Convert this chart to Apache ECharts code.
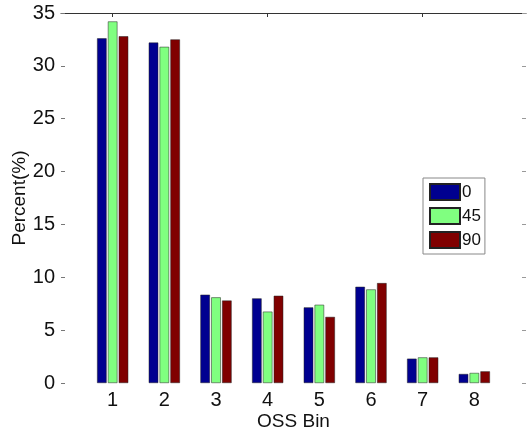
<!DOCTYPE html>
<html>
<head>
<meta charset="utf-8">
<script src="https://cdn.jsdelivr.net/npm/echarts@6/dist/echarts.min.js"></script>
<style>
  html, body { margin: 0; padding: 0; background: #fff; }
  #chart { width: 528px; height: 429px; }
</style>
</head>
<body>
<div id="chart"></div>
<script>
const categories = ['1', '2', '3', '4', '5', '6', '7', '8'];
const seriesNames = ['0', '45', '90'];
const values0  = [32.6, 32.2, 8.35, 8.0, 7.15, 9.1, 2.3, 0.85];
const values45 = [34.2, 31.8, 8.1, 6.75, 7.4, 8.85, 2.42, 0.95];
const values90 = [32.8, 32.5, 7.8, 8.25, 6.25, 9.45, 2.42, 1.1];
const yTicks = [0, 5, 10, 15, 20, 25, 30, 35];
const topTickCategories = ['1', '4', '7'];

const colors = ['#000090', '#80FF80', '#800000'];
const axisData = [''].concat(categories, ['']);
const pad = arr => [null].concat(arr, [null]);
const allValues = [values0, values45, values90];
const font = 'Liberation Sans, Arial, sans-serif';

const chart = echarts.init(document.getElementById('chart'), null, { renderer: 'canvas' });
chart.setOption({
  animation: false,
  backgroundColor: '#ffffff',
  textStyle: { fontFamily: font },
  grid: { left: 61, right: 2, top: 13, bottom: 46, containLabel: false, outerBoundsMode: 'none' },
  legend: {
    orient: 'vertical',
    left: 423,
    top: 178,
    data: seriesNames.map(n => ({ name: n, icon: 'rect' })),
    itemWidth: 30,
    itemHeight: 16,
    itemGap: 6,
    padding: [5, 4, 5, 6],
    borderColor: '#888',
    borderWidth: 1,
    backgroundColor: '#fff',
    textStyle: { fontSize: 17, color: '#111', fontFamily: font, padding: [0, 0, 0, -3] }
  },
  xAxis: [
    {
      type: 'category',
      data: axisData,
      boundaryGap: false,
      position: 'bottom',
      name: 'OSS Bin',
      nameLocation: 'middle',
      nameGap: 29,
      nameMoveOverlap: false,
      nameTextStyle: { fontSize: 19, color: '#111', fontFamily: font },
      axisLine: { show: false },
      axisTick: { show: false },
      axisLabel: { interval: 0, fontSize: 20, color: '#111', margin: 7, fontFamily: font },
      splitLine: { show: false }
    },
    {
      type: 'category',
      data: axisData,
      boundaryGap: false,
      position: 'top',
      axisLine: { show: true, onZero: false, lineStyle: { color: '#333', width: 1 } },
      axisTick: {
        show: true,
        inside: true,
        length: 4,
        interval: (i, v) => topTickCategories.indexOf(v) >= 0,
        lineStyle: { color: '#333' }
      },
      axisLabel: { show: false },
      splitLine: { show: false }
    }
  ],
  yAxis: [
    {
      type: 'value',
      min: yTicks[0],
      max: yTicks[yTicks.length - 1],
      interval: yTicks[1] - yTicks[0],
      position: 'left',
      name: 'Percent(%)',
      nameLocation: 'middle',
      nameGap: 32,
      nameMoveOverlap: false,
      nameTextStyle: { fontSize: 19, color: '#111', fontFamily: font },
      axisLine: { show: false },
      axisTick: { show: true, inside: true, length: 4, lineStyle: { color: '#777' } },
      axisLabel: { fontSize: 20, color: '#111', margin: 6, fontFamily: font },
      splitLine: { show: false }
    },
    {
      type: 'value',
      min: yTicks[0],
      max: yTicks[yTicks.length - 1],
      interval: yTicks[1] - yTicks[0],
      position: 'right',
      axisLine: { show: false },
      axisTick: { show: true, inside: true, length: 4, lineStyle: { color: '#999' } },
      axisLabel: { show: false },
      splitLine: { show: false }
    }
  ],
  series: seriesNames.map((name, k) => ({
    name: name,
    type: 'bar',
    xAxisIndex: 0,
    yAxisIndex: 0,
    data: pad(allValues[k]),
    barWidth: 9.5,
    barGap: '14%',
    itemStyle: { color: colors[k], borderColor: '#222', borderWidth: 0.5 }
  }))
});
</script>
</body>
</html>
